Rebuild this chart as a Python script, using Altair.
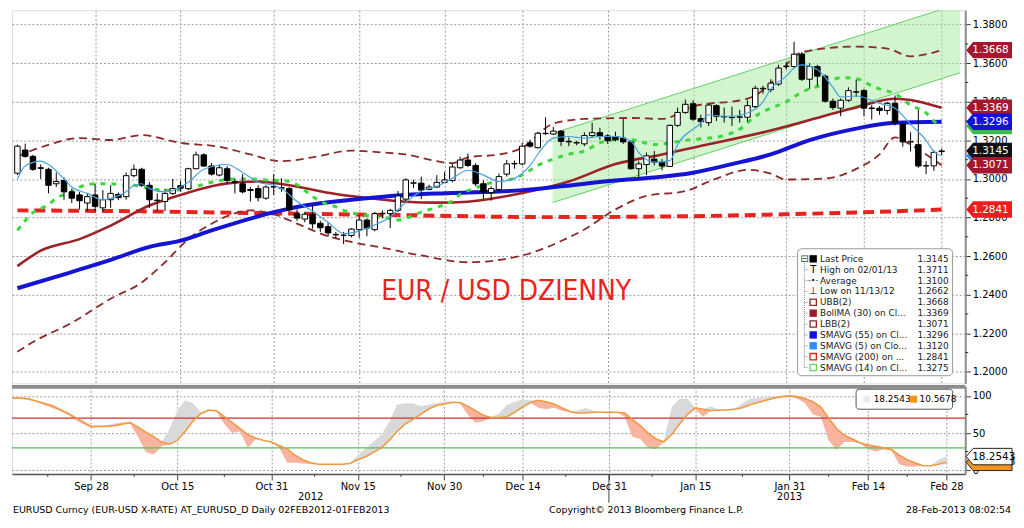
import altair as alt
import pandas as pd

# ---------------- data ----------------
# trading-day index 0 = 14 Sep 2012 ... 119 = 28 Feb 2013
OPEN = [1.3030,1.3150,1.3117,1.3058,1.3050,1.2975,1.2992,1.2933,1.2917,1.2875,
        1.2917,1.2850,1.2892,1.2920,1.2908,1.3017,1.3050,1.2967,1.2890,1.2883,
        1.2925,1.2965,1.2950,1.3053,1.3125,1.3067,1.3020,1.3053,1.2985,1.2975,
        1.2945,1.2950,1.2900,1.2958,1.2955,1.2950,1.2820,1.2792,1.2817,1.2770,
        1.2753,1.2712,1.2708,1.2707,1.2737,1.2787,1.2737,1.2820,1.2820,1.2837,
        1.2895,1.2978,1.2978,1.2945,1.2958,1.2982,1.2992,1.3058,1.3098,1.3070,
        1.2975,1.2930,1.2945,1.3025,1.3078,1.3078,1.3187,1.3162,1.3237,1.3233,
        1.3248,1.3195,1.3188,1.3182,1.3225,1.3240,1.3223,1.3220,1.3212,1.3192,
        1.3053,1.3075,1.3103,1.3087,1.3065,1.3278,1.3345,1.3390,1.3313,1.3292,
        1.3380,1.3323,1.3318,1.3320,1.3320,1.3375,1.3467,1.3463,1.3492,1.3583,
        1.3583,1.3647,1.3517,1.3583,1.3533,1.3403,1.3367,1.3408,1.3450,1.3458,
        1.3368,1.3367,1.3355,1.3392,1.3283,1.3193,1.3178,1.3068,1.3068,1.3142]
HIGH = [1.3178,1.3183,1.3125,1.3075,1.3058,1.3033,1.3008,1.2950,1.2933,1.2925,
        1.2975,1.2942,1.2967,1.2930,1.3033,1.3075,1.3058,1.2983,1.2925,1.2950,
        1.3000,1.2990,1.3058,1.3142,1.3133,1.3083,1.3075,1.3067,1.3000,1.3025,
        1.2958,1.2967,1.2967,1.3025,1.3003,1.2958,1.2842,1.2830,1.2867,1.2783,
        1.2775,1.2725,1.2725,1.2745,1.2812,1.2795,1.2828,1.2837,1.2845,1.2937,
        1.3003,1.2995,1.3012,1.2970,1.3020,1.3037,1.3078,1.3115,1.3132,1.3082,
        1.2992,1.2962,1.3028,1.3098,1.3095,1.3187,1.3203,1.3245,1.3320,1.3270,
        1.3253,1.3215,1.3198,1.3242,1.3292,1.3265,1.3232,1.3245,1.3312,1.3198,
        1.3092,1.3137,1.3145,1.3103,1.3282,1.3370,1.3412,1.3408,1.3333,1.3387,
        1.3387,1.3370,1.3375,1.3358,1.3408,1.3483,1.3483,1.3517,1.3592,1.3608,
        1.3711,1.3658,1.3600,1.3592,1.3542,1.3417,1.3417,1.3475,1.3515,1.3467,
        1.3383,1.3378,1.3400,1.3433,1.3292,1.3242,1.3358,1.3092,1.3150,1.3158]
LOW = [1.3020,1.3110,1.3042,1.3000,1.2925,1.2958,1.2892,1.2875,1.2842,1.2833,
       1.2833,1.2833,1.2850,1.2890,1.2892,1.3008,1.2958,1.2850,1.2833,1.2833,
       1.2917,1.2935,1.2942,1.3050,1.3063,1.3017,1.3013,1.2975,1.2925,1.2925,
       1.2883,1.2883,1.2892,1.2917,1.2933,1.2830,1.2783,1.2775,1.2742,1.2725,
       1.2700,1.2692,1.2662,1.2697,1.2695,1.2703,1.2728,1.2795,1.2745,1.2828,
       1.2878,1.2953,1.2895,1.2942,1.2953,1.2978,1.2982,1.3053,1.3062,1.2962,
       1.2895,1.2887,1.2937,1.3012,1.3053,1.3070,1.3162,1.3158,1.3228,1.3228,
       1.3170,1.3170,1.3175,1.3170,1.3212,1.3203,1.3182,1.3195,1.3182,1.3048,
       1.3003,1.3020,1.3070,1.3045,1.3062,1.3270,1.3337,1.3300,1.3267,1.3275,
       1.3300,1.3292,1.3275,1.3292,1.3297,1.3367,1.3442,1.3450,1.3483,1.3567,
       1.3575,1.3508,1.3467,1.3483,1.3397,1.3358,1.3325,1.3400,1.3425,1.3325,
       1.3308,1.3333,1.3333,1.3278,1.3167,1.3142,1.3058,1.3025,1.3042,1.3125]
CLOSE = [1.3170,1.3117,1.3050,1.3055,1.2967,1.2987,1.2933,1.2900,1.2887,1.2908,
         1.2858,1.2892,1.2925,1.2903,1.3017,1.3050,1.2967,1.2892,1.2888,1.2925,
         1.2950,1.2952,1.3053,1.3125,1.3067,1.3025,1.3058,1.2992,1.2983,1.2933,
         1.2940,1.2903,1.2958,1.2960,1.2952,1.2840,1.2797,1.2817,1.2767,1.2747,
         1.2720,1.2710,1.2708,1.2740,1.2787,1.2745,1.2820,1.2822,1.2837,1.2912,
         1.2995,1.2980,1.2942,1.2958,1.2982,1.2995,1.3062,1.3098,1.3070,1.2975,
         1.2932,1.2950,1.3012,1.3078,1.3080,1.3170,1.3170,1.3237,1.3235,1.3248,
         1.3195,1.3192,1.3187,1.3225,1.3240,1.3220,1.3198,1.3203,1.3192,1.3053,
         1.3078,1.3120,1.3087,1.3067,1.3278,1.3345,1.3387,1.3310,1.3297,1.3383,
         1.3325,1.3322,1.3320,1.3322,1.3380,1.3470,1.3470,1.3497,1.3575,1.3585,
         1.3647,1.3517,1.3583,1.3533,1.3403,1.3370,1.3408,1.3458,1.3452,1.3367,
         1.3365,1.3355,1.3392,1.3292,1.3192,1.3192,1.3067,1.3068,1.3138,1.3145]

SMA5_I = [0,1,3,4,6,7,9,11,12,14,15,16,17,19,21,22,24,27,29,31,33,34,36,38,40,42,43,46,48,50,
          52,54,56,58,60,62,64,66,67,69,71,73,75,77,79,80,82,84,85,88,89,91,92,94,96,97,99,100,101,103,
          105,106,108,111,113,115,117,118,119]
SMA5_V = [1.3000,1.3067,1.3092,1.3075,1.3000,1.2958,1.2925,1.2892,1.2900,1.2933,1.2967,1.2975,1.2950,1.2933,1.2958,
          1.2983,1.3050,1.3075,1.3033,1.2983,1.2967,1.2950,1.2883,1.2833,1.2775,1.2717,1.2720,1.2762,1.2803,1.2878,
          1.2937,1.2962,1.3003,1.3045,1.3020,1.2987,1.3003,1.3070,1.3128,1.3212,1.3220,1.3212,1.3220,1.3220,1.3195,
          1.3137,1.3087,1.3095,1.3178,1.3290,1.3333,1.3325,1.3325,1.3342,1.3400,1.3467,1.3533,1.3575,1.3592,1.3567,
          1.3475,1.3425,1.3430,1.3392,1.3367,1.3283,1.3200,1.3142,1.3120]
SMA14_I = [0,1,2,4,5,7,8,10,12,14,15,17,19,21,22,25,28,30,33,34,36,37,39,41,42,45,48,49,52,54,
           56,57,59,60,62,64,65,67,69,71,73,75,77,79,82,84,86,88,91,93,95,97,99,101,104,106,108,110,111,113,
           115,117,118,119]
SMA14_V = [1.2733,1.2783,1.2825,1.2867,1.2900,1.2933,1.2958,1.2975,1.2975,1.2967,1.2967,1.2950,1.2942,1.2942,1.2950,
           1.2983,1.3000,1.3000,1.2992,1.2992,1.2970,1.2940,1.2883,1.2855,1.2837,1.2810,1.2795,1.2787,1.2828,1.2853,
           1.2887,1.2920,1.2953,1.2970,1.2987,1.3003,1.3020,1.3070,1.3103,1.3128,1.3145,1.3187,1.3203,1.3203,1.3178,
           1.3187,1.3200,1.3208,1.3225,1.3258,1.3325,1.3367,1.3400,1.3450,1.3492,1.3525,1.3520,1.3483,1.3467,1.3442,
           1.3383,1.3342,1.3300,1.3275]
SMA55_I = [0,6,12,17,21,25,33,37,43,50,56,65,70,77,82,87,92,97,102,108,113,119]
SMA55_V = [1.2433,1.2505,1.2580,1.2648,1.2680,1.2733,1.2827,1.2862,1.2892,1.2917,1.2927,
           1.2942,1.2962,1.2992,1.3007,1.3032,1.3077,1.3127,1.3201,1.3261,1.3291,1.3296]
SMA200_I = [0,16,32,50,68,87,99,109,119]
SMA200_V = [1.2837,1.2832,1.2822,1.2812,1.2802,1.2807,1.2817,1.2827,1.2841]
BOLL_I = [0,3,8,12,17,21,25,27,31,35,41,46,50,54,58,61,65,71,77,83,87,97,108,113,119]
BOLL_V = [1.2548,1.2628,1.2688,1.2758,1.2862,1.2917,1.2962,1.2977,1.2987,1.2967,1.2922,1.2897,1.2882,
          1.2877,1.2882,1.2897,1.2927,1.2987,1.3077,1.3127,1.3162,1.3251,1.3371,1.3416,1.3369]
UBB_I = [0,4,8,12,16,21,26,30,34,38,43,47,50,54,56,58,62,65,69,73,79,83,87,94,98,100,102,108,112,115,119]
UBB_V = [1.3117,1.3177,1.3212,1.3202,1.3227,1.3187,1.3167,1.3127,1.3092,1.3112,1.3147,1.3137,1.3127,1.3092,
         1.3082,1.3112,1.3127,1.3162,1.3287,1.3311,1.3316,1.3311,1.3376,1.3416,1.3536,1.3636,1.3666,1.3686,
         1.3676,1.3636,1.3668]
LBB_I = [0,2,7,12,16,19,22,25,27,30,33,36,40,43,47,52,58,65,70,73,77,81,86,90,94,97,99,104,108,111,113,115,117,119]
LBB_V = [1.2104,1.2154,1.2254,1.2379,1.2463,1.2568,1.2688,1.2768,1.2807,1.2837,1.2817,1.2768,1.2703,1.2673,
         1.2643,1.2603,1.2568,1.2603,1.2678,1.2738,1.2842,1.2912,1.2937,1.3002,1.3047,1.3027,1.2997,1.3002,
         1.3052,1.3127,1.3216,1.3177,1.3127,1.3071]
CHAN_I = [68.9, 121.4]
CHAN_LO = [1.2877, 1.3551]
CHAN_HI = [1.3236, 1.3910]

STOCH_K = [97,97,96,92,88,84,80,75,68,62, 57,58,60,63,65,62,45,24,21,32,
           55,80,94,90,78,80,79,62,50,52, 30,42,40,38,30,10,10,9,8,8,
           8,8,8,9,20,30,38,48,65,88, 90,90,86,88,90,92,93,90,75,64,
           66,72,76,88,92,95,94,84,82,84, 80,78,80,84,80,78,76,78,72,45,
           42,30,28,40,85,96,96,82,72,86, 80,82,83,90,96,97,98,99,100,100,
           96,90,75,72,40,27,38,38,36,28, 25,28,26,8,5,5,6,6,14,18.2543]
STOCH_D = [97,97,96,93,90,87,82,77,71,65, 59,59,59,60,62,64,58,51,45,38,
           35,40,52,66,76,81,80,72,64,56, 48,43,40,38,33,29,20,14,10,8,
           8,8,8,9,14,18,24,30,40,52, 62,68,75,82,87,89,91,91,86,80,
           74,71,71,72,78,85,91,94,92,89, 84,79,77,77,78,78,78,78,77,68,
           60,50,42,38,48,62,75,84,82,80, 81,81,82,84,88,91,94,97,99,100,
           99,96,92,85,70,56,47,42,37,34, 32,30,28,20,14,10,6,6,8,10.5678]

TICK_IDX = [10,21,33,44,55,65,76,87,99,109,119]
TICK_LAB = ["Sep 28","Oct 15","Oct 31","Nov 15","Nov 30","Dec 14","Dec 31","Jan 15","Jan 31","Feb 14","Feb 28"]
MINOR_X = [4.5,15.5,27,38.5,49.5,60,70.5,81.5,93,104,114]
YTICKS = [1.20,1.22,1.24,1.26,1.28,1.30,1.32,1.34,1.36,1.38]
YMINOR = [1.21,1.23,1.25,1.27,1.29,1.31,1.33,1.35,1.37]
YEAR_IDX = [38, 99]
YEAR_LAB = ["2012", "2013"]

TAG_V = [1.3275, 1.3120, 1.3668, 1.3369, 1.3296, 1.3145, 1.3071, 1.2841]
TAG_L = ["1.3275", "1.3120", "1.3668", "1.3369", "1.3296", "1.3145", "1.3071", "1.2841"]
TAG_C = ["#3cc03c", "#2f8fff", "#a3182e", "#a3182e", "#1212d8", "#111111", "#a3182e", "#ee1c1c"]
LTAG_V = [10.5678, 18.2543]
LTAG_L = ["10.5678", "18.2543"]
LTAG_C = ["#f7941d", "#ffffff"]

LEG_LAB = ["Last Price", "High on 02/01/13", "Average", "Low on 11/13/12", "UBB(2)",
           "BollMA (30) on Cl...", "LBB(2)", "SMAVG (55) on Cl...", "SMAVG (5) on Clo...",
           "SMAVG (200) on ...", "SMAVG (14) on Cl..."]
LEG_VAL = ["1.3145", "1.3711", "1.3100", "1.2662", "1.3668", "1.3369", "1.3071", "1.3296",
           "1.3120", "1.2841", "1.3275"]
LEG_ICON = ["sqf", "T", "avg", "low", "sqo", "sqf", "sqo", "sqf", "sqf", "sqo", "sqo"]
LEG_COL = ["#000000", "#000000", "#000000", "#000000", "#8c2a2a", "#a3182e", "#8c2a2a",
           "#1212d8", "#2f8fff", "#e0201c", "#66d066"]

# ---------------- layout ----------------
FONT = "DejaVu Sans"
W = 958
HM = 375
HL = 88
XDOM = [-0.06, 121.4]
YDOM_MAIN = [1.19397, 1.38748]
YDOM_LOW = [-5.1, 112.8]


def sxp(x):
    return x * W / 978.0


def sym(y):
    return y * HM / 388.0


def syl(y):
    return (y - 390.0) * HL / 92.0


xs = alt.Scale(domain=XDOM, nice=False, zero=False)
ysm = alt.Scale(domain=YDOM_MAIN, nice=False, zero=False)
ysl = alt.Scale(domain=YDOM_LOW, nice=False, zero=False)

GRID = dict(grid=True, gridDash=[2, 2], gridColor="#9a9a9a", gridWidth=1)
XAX_M = alt.Axis(values=TICK_IDX, labels=False, ticks=False, domain=False, title=None, **GRID)
YAX_M = alt.Axis(orient="right", values=YTICKS, format=".4f", tickSize=5, tickColor="#333333",
                 domainColor="#8c8c8c", domainWidth=2, labelFont=FONT, labelFontSize=10,
                 labelColor="#000000", labelPadding=2, title=None, **GRID)
LABEL_EXPR = "[" + ",".join("'%s'" % s for s in TICK_LAB) + "][indexof([" + \
    ",".join(str(v) for v in TICK_IDX) + "], datum.value)]"
XAX_L = alt.Axis(values=TICK_IDX, labelExpr=LABEL_EXPR, tickSize=6, tickColor="#444444",
                 domainColor="#555555", domainWidth=1.5, labelFont=FONT, labelFontSize=10,
                 labelColor="#000000", labelPadding=2, labelFlush=False, title=None, **GRID)
YAX_L = alt.Axis(orient="right", values=[0, 50, 100], tickSize=5, tickColor="#333333",
                 domainColor="#8c8c8c", domainWidth=2, labelFont=FONT, labelFontSize=10,
                 labelColor="#000000", labelPadding=2, title=None, **GRID)


def XM():
    return alt.X("i:Q", scale=xs, axis=XAX_M)


def YM(f):
    return alt.Y(f + ":Q", scale=ysm, axis=YAX_M)


def XL():
    return alt.X("i:Q", scale=xs, axis=XAX_L)


def YL(f):
    return alt.Y(f + ":Q", scale=ysl, axis=YAX_L)


ONE = pd.DataFrame({"a": [0]})


def txt(x, y, s, size=9, color="#000000", align="left", font=FONT, baseline="middle"):
    return alt.Chart(pd.DataFrame({"t": [s]})).mark_text(
        align=align, baseline=baseline, fontSize=size, color=color, font=font
    ).encode(x=alt.value(x), y=alt.value(y), text="t:N")


def box(x1, y1, x2, y2, fill, stroke, r=0):
    return alt.Chart(ONE).mark_rect(fill=fill, stroke=stroke, strokeWidth=1, cornerRadius=r).encode(
        x=alt.value(x1), x2=alt.value(x2), y=alt.value(y1), y2=alt.value(y2))


def prule(x1, y1, x2, y2, color, width=1, dash=None):
    kw = dict(color=color, strokeWidth=width)
    if dash:
        kw["strokeDash"] = dash
    return alt.Chart(ONE).mark_rule(**kw).encode(
        x=alt.value(x1), x2=alt.value(x2), y=alt.value(y1), y2=alt.value(y2))


def psq(x, y, color, filled, size=55):
    return alt.Chart(ONE).mark_point(shape="square", size=size, filled=filled, color=color,
                                     opacity=1, strokeWidth=1.3).encode(x=alt.value(x), y=alt.value(y))


TAG_PATH = "M -1 0 L -0.7 -0.36 L 1 -0.36 L 1 0.36 L -0.7 0.36 Z"

# ---------------- main panel ----------------
candles = pd.DataFrame({"i": list(range(len(OPEN))), "o": OPEN, "h": HIGH, "l": LOW, "c": CLOSE})
candles["fill"] = ["#ffffff" if c >= o else "#000000" for o, c in zip(OPEN, CLOSE)]
chan = pd.DataFrame({"i": CHAN_I, "lo": CHAN_LO, "hi": CHAN_HI})


def ma(idx, vals, color, width, dash=None, interp="monotone"):
    kw = dict(color=color, strokeWidth=width, interpolate=interp, clip=True)
    if dash:
        kw["strokeDash"] = dash
    return alt.Chart(pd.DataFrame({"i": idx, "v": vals})).mark_line(**kw).encode(x=XM(), y=YM("v"))


main_layers = [
    alt.Chart(chan).mark_area(color="#a6eaa0", opacity=0.5, clip=True).encode(x=XM(), y=YM("lo"), y2="hi"),
    alt.Chart(chan).mark_line(color="#62d262", strokeWidth=1, clip=True).encode(x=XM(), y=YM("hi")),
    alt.Chart(chan).mark_line(color="#62d262", strokeWidth=1, clip=True).encode(x=XM(), y=YM("lo")),
    ma(SMA200_I, SMA200_V, "#e8231e", 4, [11, 6]),
    ma(UBB_I, UBB_V, "#8c2a2a", 1.8, [8, 5]),
    ma(LBB_I, LBB_V, "#8c2a2a", 1.8, [8, 5]),
    ma(BOLL_I, BOLL_V, "#9c2228", 2.6),
    ma(SMA55_I, SMA55_V, "#1414d2", 4),
    ma(SMA14_I, SMA14_V, "#3ad83a", 3, [5, 6]),
    alt.Chart(candles).mark_rule(color="#000000", strokeWidth=1).encode(x=XM(), y=YM("l"), y2="h"),
    alt.Chart(candles).mark_bar(width=5.5, stroke="#000000", strokeWidth=1).encode(
        x=XM(), y=YM("o"), y2="c", color=alt.Color("fill:N", scale=None)),
    ma(SMA5_I, SMA5_V, "#4aa3df", 1.2),
    txt(sxp(507), sym(293), "EUR / USD DZIENNY", size=28, color="#e8241c", align="center",
        font="Liberation Sans Narrow, Arial Narrow, DejaVu Sans Condensed"),
    alt.Chart(pd.DataFrame({"v": YMINOR})).mark_rule(color="#333333").encode(
        y=YM("v"), x=alt.value(W), x2=alt.value(W + 3)),
]

# legend box
main_layers.append(box(sxp(806), sym(248), sxp(965), sym(380), "#ffffff", "#9a9a9a", 4))
main_layers.append(prule(sxp(813), sym(263), sxp(813), sym(372), "#888888", 1, [1, 1]))
main_layers.append(txt(sxp(813), sym(258.5), "\u229f", size=10, color="#444444", align="center"))
for k in range(len(LEG_LAB)):
    yk = sym(258.5 + k * 11.3)
    xi = sxp(822)
    if k > 0:
        main_layers.append(prule(sxp(813), yk, sxp(817), yk, "#888888", 1, [1, 1]))
    ic = LEG_ICON[k]
    if ic == "sqf":
        main_layers.append(psq(xi, yk, LEG_COL[k], True))
    elif ic == "sqo":
        main_layers.append(psq(xi, yk, LEG_COL[k], False, 40))
    elif ic == "T":
        main_layers.append(txt(xi, yk, "T", size=10, align="center"))
    elif ic == "avg":
        main_layers.append(txt(xi, yk, "-\u2022-", size=8, align="center"))
    else:
        main_layers.append(txt(xi, yk, "\u22a5", size=10, align="center"))
    main_layers.append(txt(sxp(829), yk, LEG_LAB[k], size=9, color="#1a1a1a"))
    main_layers.append(txt(sxp(961), yk, LEG_VAL[k], size=9, color="#1a1a1a", align="right"))

# price tags on the right
for v, lab, col in zip(TAG_V, TAG_L, TAG_C):
    d = pd.DataFrame({"v": [v], "t": [lab]})
    main_layers.append(alt.Chart(d).mark_point(shape=TAG_PATH, size=2116, filled=True, color=col,
                                               opacity=1).encode(x=alt.value(W + 24), y=YM("v")))
    main_layers.append(alt.Chart(d).mark_text(align="left", baseline="middle", fontSize=10.5, font=FONT,
                                              color="#ffffff").encode(x=alt.value(W + 7), y=YM("v"), text="t:N"))

main = alt.layer(*main_layers).properties(width=W, height=HM)

# ---------------- lower panel ----------------
low = pd.DataFrame({"i": list(range(len(STOCH_K))), "k": STOCH_K, "d": STOCH_D})
low["hi"] = low[["k", "d"]].max(axis=1)
low["lo"] = low[["k", "d"]].min(axis=1)

low_layers = [
    alt.Chart(low).mark_area(color="#d9d9d9").encode(x=XL(), y=YL("d"), y2="hi"),
    alt.Chart(low).mark_area(color="#f8b49e").encode(x=XL(), y=YL("lo"), y2="d"),
    alt.Chart(pd.DataFrame({"v": [70]})).mark_rule(color="#cc3030", strokeWidth=1.2).encode(y=YL("v")),
    alt.Chart(pd.DataFrame({"v": [30]})).mark_rule(color="#52c452", strokeWidth=1.2).encode(y=YL("v")),
    alt.Chart(low).mark_line(color="#f09a45", strokeWidth=1.6).encode(x=XL(), y=YL("d")),
    prule(0, 0.5, W, 0.5, "#8c8c8c", 4),
    alt.Chart(pd.DataFrame({"i": MINOR_X})).mark_rule(color="#444444").encode(
        x=XL(), y=alt.value(HL), y2=alt.value(HL + 3)),
    alt.Chart(pd.DataFrame({"i": [76]})).mark_rule(color="#444444").encode(
        x=XL(), y=alt.value(HL), y2=alt.value(HL + 29)),
    alt.Chart(pd.DataFrame({"v": [25, 75]})).mark_rule(color="#333333").encode(
        y=YL("v"), x=alt.value(W), x2=alt.value(W + 3)),
    alt.Chart(pd.DataFrame({"i": YEAR_IDX, "t": YEAR_LAB})).mark_text(
        fontSize=10, font=FONT, baseline="middle", color="#000000").encode(
        x=XL(), y=alt.value(HL + 23), text="t:N"),
    txt(1, HL + 36, "EURUSD Curncy (EUR-USD X-RATE) AT_EURUSD_D  Daily 02FEB2012-01FEB2013", size=9.5),
    txt(sxp(551), HL + 36, "Copyright\u00a9 2013 Bloomberg Finance L.P.", size=9.5),
    txt(W + 46, HL + 36, "28-Feb-2013 08:02:54", size=9.5, align="right"),
    box(sxp(866), syl(393), sxp(965), syl(414), "#ffffff", "#555555", 3),
    psq(sxp(877), syl(403.5), "#ececec", True, 50),
    txt(sxp(884), syl(403.5), "18.2543", size=9),
    psq(sxp(925), syl(403.5), "#f7941d", True, 50),
    txt(sxp(931), syl(403.5), "10.5678", size=9),
]
for v, lab, col in zip(LTAG_V, LTAG_L, LTAG_C):
    d = pd.DataFrame({"v": [v], "t": [lab]})
    low_layers.append(alt.Chart(d).mark_point(shape=TAG_PATH, size=2116, filled=True, color=col, opacity=1,
                                              stroke="#222222", strokeWidth=1).encode(
        x=alt.value(W + 24), y=YL("v")))
    low_layers.append(alt.Chart(d).mark_text(align="left", baseline="middle", fontSize=10.5, font=FONT,
                                             color="#000000").encode(x=alt.value(W + 7), y=YL("v"), text="t:N"))

lower = alt.layer(*low_layers).properties(width=W, height=HL)

chart = alt.vconcat(main, lower, spacing=0).properties(
    padding={"left": 0, "right": 0, "top": 0, "bottom": 0}
).configure_view(strokeWidth=0).configure(font=FONT)

chart.save("out.html", embed_options={"renderer": "svg", "actions": False})
